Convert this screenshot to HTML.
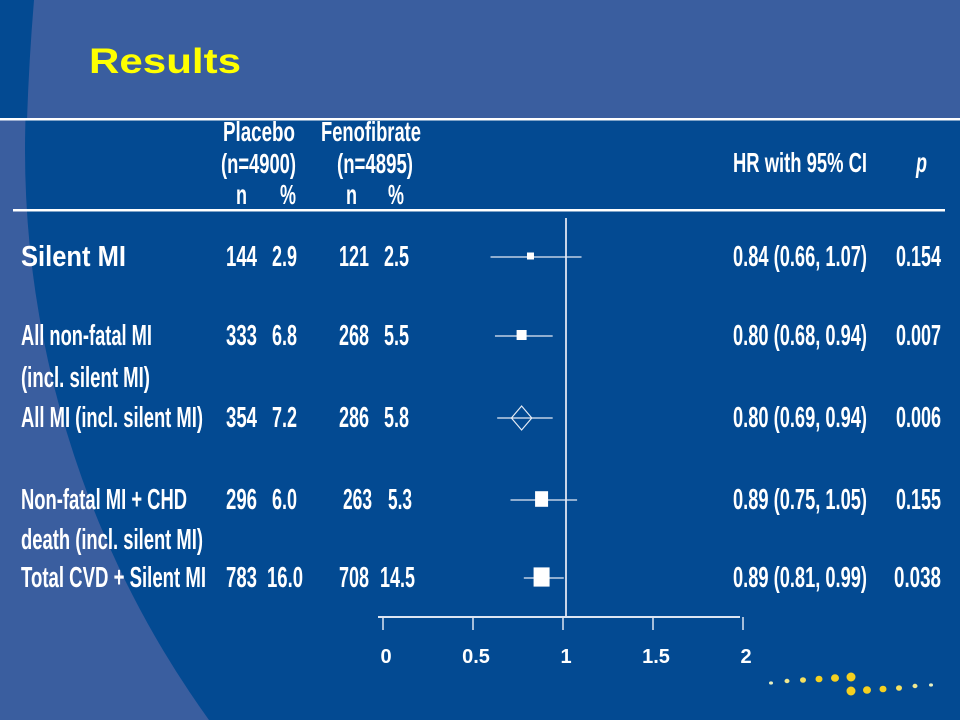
<!DOCTYPE html>
<html><head><meta charset="utf-8"><style>
html,body{margin:0;padding:0;width:960px;height:720px;overflow:hidden;background:#034a92}
svg{display:block;position:absolute;left:0;top:0}
text{font-family:"Liberation Sans Narrow","Liberation Sans",sans-serif;font-weight:bold;fill:#fff}
</style></head><body>
<svg id="chart" width="960" height="720" viewBox="0 0 960 720" xmlns="http://www.w3.org/2000/svg">
<defs><clipPath id="below"><rect x="0" y="120" width="960" height="600"/></clipPath></defs>
<rect x="0" y="0" width="960" height="720" fill="#3a5e9f"/>
<path d="M0 0 L34 0 Q29 60 27 120 L0 120 Z" fill="#034a92"/>
<circle cx="1000" cy="150" r="975" fill="#034a92" clip-path="url(#below)"/>
<text x="89" y="73" textLength="152" lengthAdjust="spacingAndGlyphs" style="font-family:'Liberation Sans',sans-serif;font-size:35px;fill:#ffff00">Results</text>
<rect x="0" y="118" width="960" height="2.5" fill="#fff"/>
<rect x="13" y="209" width="932" height="2.5" fill="#fff"/>

<g font-size="28">
<text x="223" y="141" textLength="72" lengthAdjust="spacingAndGlyphs">Placebo</text>
<text x="221" y="173" textLength="75" lengthAdjust="spacingAndGlyphs">(n=4900)</text>
<text x="236" y="204" textLength="11" lengthAdjust="spacingAndGlyphs">n</text>
<text x="280" y="204" textLength="16" lengthAdjust="spacingAndGlyphs">%</text>
<text x="321" y="141" textLength="100" lengthAdjust="spacingAndGlyphs">Fenofibrate</text>
<text x="337" y="173" textLength="76" lengthAdjust="spacingAndGlyphs">(n=4895)</text>
<text x="346" y="204" textLength="11" lengthAdjust="spacingAndGlyphs">n</text>
<text x="388" y="204" textLength="16" lengthAdjust="spacingAndGlyphs">%</text>
<text x="733" y="172" textLength="134" lengthAdjust="spacingAndGlyphs">HR with 95% CI</text>
<text x="916" y="172" font-style="italic" font-weight="normal" textLength="11" lengthAdjust="spacingAndGlyphs">p</text>
</g>

<g font-size="29">
<text x="21" y="266" textLength="105" lengthAdjust="spacingAndGlyphs" style="font-family:'Liberation Sans Narrow','Liberation Sans',sans-serif">Silent MI</text>
<text x="21" y="345" textLength="131" lengthAdjust="spacingAndGlyphs">All non-fatal MI</text>
<text x="21" y="387" textLength="129" lengthAdjust="spacingAndGlyphs">(incl. silent MI)</text>
<text x="21" y="427" textLength="182" lengthAdjust="spacingAndGlyphs">All MI (incl. silent MI)</text>
<text x="21" y="509" textLength="166" lengthAdjust="spacingAndGlyphs">Non-fatal MI + CHD</text>
<text x="21" y="549" textLength="182" lengthAdjust="spacingAndGlyphs">death (incl. silent MI)</text>
<text x="21" y="587" textLength="185" lengthAdjust="spacingAndGlyphs">Total CVD + Silent MI</text>
</g>

<g font-size="29">
<text x="226" y="266" textLength="31" lengthAdjust="spacingAndGlyphs">144</text>
<text x="272" y="266" textLength="25" lengthAdjust="spacingAndGlyphs">2.9</text>
<text x="339" y="266" textLength="30" lengthAdjust="spacingAndGlyphs">121</text>
<text x="384" y="266" textLength="25" lengthAdjust="spacingAndGlyphs">2.5</text>
<text x="226" y="345" textLength="31" lengthAdjust="spacingAndGlyphs">333</text>
<text x="272" y="345" textLength="25" lengthAdjust="spacingAndGlyphs">6.8</text>
<text x="339" y="345" textLength="30" lengthAdjust="spacingAndGlyphs">268</text>
<text x="384" y="345" textLength="25" lengthAdjust="spacingAndGlyphs">5.5</text>
<text x="226" y="427" textLength="31" lengthAdjust="spacingAndGlyphs">354</text>
<text x="272" y="427" textLength="25" lengthAdjust="spacingAndGlyphs">7.2</text>
<text x="339" y="427" textLength="30" lengthAdjust="spacingAndGlyphs">286</text>
<text x="384" y="427" textLength="25" lengthAdjust="spacingAndGlyphs">5.8</text>
<text x="226" y="509" textLength="31" lengthAdjust="spacingAndGlyphs">296</text>
<text x="272" y="509" textLength="25" lengthAdjust="spacingAndGlyphs">6.0</text>
<text x="343" y="509" textLength="29" lengthAdjust="spacingAndGlyphs">263</text>
<text x="388" y="509" textLength="24" lengthAdjust="spacingAndGlyphs">5.3</text>
<text x="226" y="587" textLength="31" lengthAdjust="spacingAndGlyphs">783</text>
<text x="267" y="587" textLength="36" lengthAdjust="spacingAndGlyphs">16.0</text>
<text x="339" y="587" textLength="30" lengthAdjust="spacingAndGlyphs">708</text>
<text x="380" y="587" textLength="35" lengthAdjust="spacingAndGlyphs">14.5</text>
</g>

<g font-size="29">
<text x="733" y="266" textLength="134" lengthAdjust="spacingAndGlyphs">0.84 (0.66, 1.07)</text>
<text x="733" y="345" textLength="134" lengthAdjust="spacingAndGlyphs">0.80 (0.68, 0.94)</text>
<text x="733" y="427" textLength="134" lengthAdjust="spacingAndGlyphs">0.80 (0.69, 0.94)</text>
<text x="733" y="509" textLength="134" lengthAdjust="spacingAndGlyphs">0.89 (0.75, 1.05)</text>
<text x="733" y="587" textLength="134" lengthAdjust="spacingAndGlyphs">0.89 (0.81, 0.99)</text>
</g>
<g font-size="29">
<text x="896" y="266" textLength="45" lengthAdjust="spacingAndGlyphs">0.154</text>
<text x="896" y="345" textLength="45" lengthAdjust="spacingAndGlyphs">0.007</text>
<text x="896" y="427" textLength="45" lengthAdjust="spacingAndGlyphs">0.006</text>
<text x="896" y="509" textLength="45" lengthAdjust="spacingAndGlyphs">0.155</text>
<text x="894" y="587" textLength="47" lengthAdjust="spacingAndGlyphs">0.038</text>
</g>

<g id="plot"></g>

<g fill="#f5d020">
<ellipse cx="771" cy="683" rx="2" ry="1.6" fill="#e8f0c0"/>
<ellipse cx="787" cy="681" rx="2.5" ry="2.2" fill="#f0e890"/>
<ellipse cx="803" cy="680" rx="3" ry="2.8" fill="#f5e060"/>
<ellipse cx="819" cy="679" rx="3.5" ry="3.3"/>
<ellipse cx="835" cy="678" rx="4" ry="3.8"/>
<ellipse cx="851" cy="677" rx="4.5" ry="4.5"/>
<ellipse cx="851" cy="691" rx="4.5" ry="4.5"/>
<ellipse cx="867" cy="690" rx="4" ry="3.8"/>
<ellipse cx="883" cy="689" rx="3.5" ry="3.3"/>
<ellipse cx="899" cy="688" rx="3" ry="2.8" fill="#f5e060"/>
<ellipse cx="915" cy="686" rx="2.5" ry="2.2" fill="#f0e890"/>
<ellipse cx="931" cy="685" rx="2" ry="1.6" fill="#e8f0c0"/>
</g>
</svg>
<script>
const categories = ["Silent MI","All non-fatal MI","All MI (incl. silent MI)","Non-fatal MI + CHD death","Total CVD + Silent MI"];
const hrValues = [0.84, 0.80, 0.80, 0.89, 0.89];
const ciLower = [0.66, 0.68, 0.69, 0.75, 0.81];
const ciUpper = [1.07, 0.94, 0.94, 1.05, 0.99];
const markerKind = ["square","square","diamond","square","square"];
const markerWeight = [7, 10, 12, 13, 16];
const tickValues = [0, 0.5, 1, 1.5, 2];
const tickLabels = ["0","0.5","1","1.5","2"];

const NS = "http://www.w3.org/2000/svg";
const plot = document.getElementById('plot');
const rowY = [257, 336, 418, 500, 578];
function axisScale(v){ return 383 + v * 180; }
function xScale(v){ return 344 + v * 222; }
function mk(tag, attrs){ const e = document.createElementNS(NS, tag); for (const k in attrs) e.setAttribute(k, attrs[k]); plot.appendChild(e); return e; }

let e;
e = mk('line', {x1: xScale(1), x2: xScale(1), y1: 218, y2: 617, stroke: '#c8d4e8', 'stroke-width': 2});


e = mk('line', {x1: 378, x2: 740, y1: 617, y2: 617, stroke: '#dde5f2', 'stroke-width': 2});


tickValues.forEach((v, i) => {
  let t = mk('line', {x1: axisScale(v), x2: axisScale(v), y1: 617, y2: 630, stroke: '#dde5f2', 'stroke-width': 1.5});
  
  
  let l = mk('text', {x: axisScale(v) + 3, y: 663, 'text-anchor': 'middle', 'font-size': 20});
  l.textContent = tickLabels[i];
  
  
});
categories.forEach((c, i) => {
  const y = rowY[i];
  let ln = mk('line', {x1: xScale(ciLower[i]), x2: xScale(ciUpper[i]), y1: y, y2: y, stroke: '#e4ebf5', 'stroke-width': 1.3});
  
  
  const cx = xScale(hrValues[i]);
  const w = markerWeight[i];
  let m;
  if (markerKind[i] === 'diamond') {
    m = mk('polygon', {points: `${cx-w*0.85},${y} ${cx},${y-w} ${cx+w*0.85},${y} ${cx},${y+w}`, fill: 'none', stroke: '#e4ebf5', 'stroke-width': 1.2});
  } else {
    const h = w * (i >= 3 ? 1.2 : 1);
    m = mk('rect', {x: cx - w/2, y: y - h/2 - 1, width: w, height: h, fill: '#fff'});
  }
  
  
});
</script>
</body></html>
